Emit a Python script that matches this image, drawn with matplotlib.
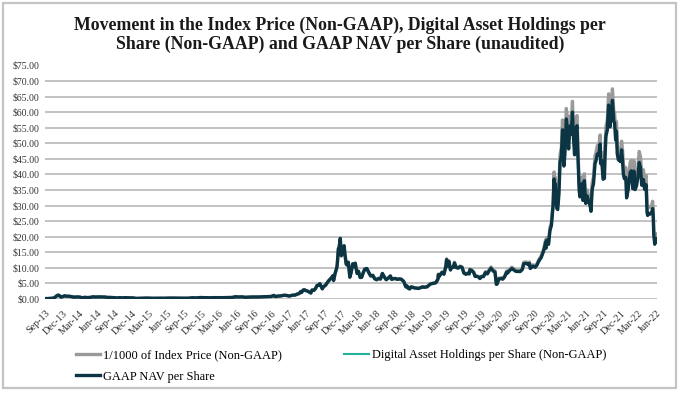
import matplotlib
matplotlib.use("Agg")
import matplotlib.pyplot as plt
import pandas as pd
from matplotlib.patches import Rectangle
from matplotlib.lines import Line2D

plt.rcParams['font.family'] = ['Liberation Serif', 'DejaVu Serif']

title = "Movement in the Index Price (Non-GAAP), Digital Asset Holdings per\nShare (Non-GAAP) and GAAP NAV per Share (unaudited)"
label_index = "1/1000 of Index Price (Non-GAAP)"
label_holdings = "Digital Asset Holdings per Share (Non-GAAP)"
label_nav = "GAAP NAV per Share"

dates = [
    # 2013
    "2013-09-25", "2013-10-10", "2013-10-25", "2013-11-05", "2013-11-15", "2013-11-22", "2013-11-30", "2013-12-05",
    "2013-12-10", "2013-12-18", "2013-12-25",
    # 2014
    "2014-01-05", "2014-01-15", "2014-01-31", "2014-02-10", "2014-02-25", "2014-03-10", "2014-03-25", "2014-04-10",
    "2014-04-20", "2014-05-05", "2014-05-20", "2014-06-03", "2014-06-15", "2014-07-01", "2014-07-20", "2014-08-05",
    "2014-08-18", "2014-09-01", "2014-09-20", "2014-10-05", "2014-10-20", "2014-11-05", "2014-11-15", "2014-12-01",
    "2014-12-15",
    # 2015
    "2015-01-01", "2015-01-14", "2015-02-01", "2015-02-15", "2015-03-10", "2015-03-25", "2015-04-15", "2015-05-01",
    "2015-05-20", "2015-06-15", "2015-07-10", "2015-08-01", "2015-08-20", "2015-09-15", "2015-10-05", "2015-10-25",
    "2015-11-04", "2015-11-15", "2015-12-01", "2015-12-15",
    # 2016
    "2016-01-01", "2016-01-15", "2016-02-01", "2016-02-20", "2016-03-10", "2016-04-01", "2016-04-20", "2016-05-05",
    "2016-05-25", "2016-06-10", "2016-06-17", "2016-06-25", "2016-07-10", "2016-07-25", "2016-08-03", "2016-08-20",
    "2016-09-10", "2016-10-01", "2016-10-20", "2016-11-05", "2016-11-20", "2016-12-05", "2016-12-20",
    # 2017
    "2017-01-04", "2017-01-12", "2017-01-25", "2017-02-10", "2017-02-25", "2017-03-10", "2017-03-25", "2017-04-10",
    "2017-04-25", "2017-05-05", "2017-05-15", "2017-05-25", "2017-05-28", "2017-06-06", "2017-06-12", "2017-06-20",
    "2017-07-01", "2017-07-16", "2017-07-22", "2017-08-01", "2017-08-10", "2017-08-17", "2017-08-25", "2017-09-01",
    "2017-09-14", "2017-09-20", "2017-10-01", "2017-10-12", "2017-10-20", "2017-11-01", "2017-11-08", "2017-11-12",
    "2017-11-20", "2017-11-28", "2017-12-01", "2017-12-07", "2017-12-11", "2017-12-17", "2017-12-22", "2017-12-28",
    # 2018
    "2018-01-06", "2018-01-10", "2018-01-17", "2018-01-22", "2018-01-28", "2018-02-05", "2018-02-12", "2018-02-20",
    "2018-02-28", "2018-03-05", "2018-03-15", "2018-03-22", "2018-03-31", "2018-04-08", "2018-04-15", "2018-04-24",
    "2018-05-05", "2018-05-15", "2018-05-25", "2018-06-05", "2018-06-15", "2018-06-25", "2018-07-05", "2018-07-15",
    "2018-07-25", "2018-08-05", "2018-08-14", "2018-08-25", "2018-09-05", "2018-09-12", "2018-09-20", "2018-10-01",
    "2018-10-11", "2018-10-20", "2018-11-01", "2018-11-14", "2018-11-20", "2018-11-25", "2018-12-01", "2018-12-08",
    "2018-12-15", "2018-12-22",
    # 2019
    "2019-01-01", "2019-01-10", "2019-01-20", "2019-01-29", "2019-02-08", "2019-02-20", "2019-03-01", "2019-03-15",
    "2019-04-02", "2019-04-15", "2019-04-30", "2019-05-11", "2019-05-14", "2019-05-17", "2019-05-25", "2019-06-02",
    "2019-06-12", "2019-06-22", "2019-06-26", "2019-06-30", "2019-07-08", "2019-07-16", "2019-07-22", "2019-08-01",
    "2019-08-06", "2019-08-15", "2019-08-25", "2019-09-05", "2019-09-15", "2019-09-24", "2019-10-05", "2019-10-15",
    "2019-10-22", "2019-10-26", "2019-11-05", "2019-11-15", "2019-11-22", "2019-12-01", "2019-12-10", "2019-12-17",
    "2019-12-25",
    # 2020
    "2020-01-05", "2020-01-15", "2020-01-25", "2020-02-05", "2020-02-13", "2020-02-25", "2020-03-05", "2020-03-12",
    "2020-03-16", "2020-03-25", "2020-04-05", "2020-04-15", "2020-04-25", "2020-05-05", "2020-05-10", "2020-05-20",
    "2020-06-01", "2020-06-10", "2020-06-20", "2020-07-01", "2020-07-15", "2020-07-26", "2020-08-02", "2020-08-16",
    "2020-08-25", "2020-09-01", "2020-09-05", "2020-09-20", "2020-10-01", "2020-10-10", "2020-10-21", "2020-11-01",
    "2020-11-10", "2020-11-17", "2020-11-25", "2020-11-27", "2020-12-01", "2020-12-10", "2020-12-17", "2020-12-25",
    "2020-12-31",
    # 2021
    "2021-01-03", "2021-01-08", "2021-01-11", "2021-01-14", "2021-01-22", "2021-01-27", "2021-02-02", "2021-02-08",
    "2021-02-15", "2021-02-21", "2021-02-28", "2021-03-05", "2021-03-13", "2021-03-18", "2021-03-25", "2021-03-31",
    "2021-04-07", "2021-04-14", "2021-04-18", "2021-04-25", "2021-04-30", "2021-05-08", "2021-05-12", "2021-05-19",
    "2021-05-23", "2021-05-29", "2021-06-03", "2021-06-08", "2021-06-15", "2021-06-22", "2021-06-30", "2021-07-08",
    "2021-07-15", "2021-07-20", "2021-07-26", "2021-08-02", "2021-08-10", "2021-08-15", "2021-08-22", "2021-08-29",
    "2021-09-06", "2021-09-08", "2021-09-14", "2021-09-21", "2021-09-28", "2021-10-01", "2021-10-06", "2021-10-13",
    "2021-10-20", "2021-10-27", "2021-11-03", "2021-11-09", "2021-11-12", "2021-11-16", "2021-11-20", "2021-11-26",
    "2021-11-30", "2021-12-04", "2021-12-10", "2021-12-16", "2021-12-20", "2021-12-27",
    # 2022
    "2022-01-01", "2022-01-05", "2022-01-10", "2022-01-18", "2022-01-22", "2022-01-30", "2022-02-05", "2022-02-10",
    "2022-02-16", "2022-02-24", "2022-03-01", "2022-03-07", "2022-03-15", "2022-03-22", "2022-03-29", "2022-04-05",
    "2022-04-11", "2022-04-20", "2022-04-26", "2022-05-04", "2022-05-09", "2022-05-12", "2022-05-16", "2022-05-25",
    "2022-06-01", "2022-06-07", "2022-06-10", "2022-06-13", "2022-06-18", "2022-06-22", "2022-06-26", "2022-06-30",
]

index_price_k = [
    # 2013
    0.125, 0.125, 0.185, 0.24, 0.42, 0.80, 1.12, 1.15, 0.95, 0.55, 0.68,
    # 2014
    0.95, 0.85, 0.82, 0.70, 0.55, 0.63, 0.58, 0.37, 0.50, 0.43, 0.49, 0.66, 0.59, 0.64, 0.62, 0.59,
    0.47, 0.48, 0.41, 0.32, 0.39, 0.34, 0.40, 0.38, 0.35,
    # 2015
    0.315, 0.18, 0.225, 0.235, 0.29, 0.25, 0.22, 0.235, 0.237, 0.235, 0.285, 0.28, 0.235, 0.23, 0.24, 0.29,
    0.40, 0.33, 0.36, 0.45,
    # 2016
    0.43, 0.385, 0.375, 0.43, 0.415, 0.415, 0.44, 0.45, 0.47, 0.58, 0.75, 0.63, 0.65, 0.66, 0.52, 0.58,
    0.62, 0.615, 0.63, 0.70, 0.73, 0.76, 0.79,
    # 2017
    1.13, 0.78, 0.92, 1.00, 1.18, 1.15, 0.93, 1.20, 1.26, 1.55, 1.71, 2.40, 2.05, 2.86, 2.95, 2.70,
    2.45, 1.92, 2.85, 2.75, 3.40, 4.30, 4.35, 4.90, 3.25, 3.90, 4.40, 5.40, 6.00, 6.75, 7.40, 5.90,
    8.20, 9.80, 10.90, 16.00, 16.50, 19.30, 13.80, 14.40,
    # 2018
    17.10, 14.50, 11.20, 10.90, 11.80, 7.00, 8.60, 11.30, 10.40, 11.50, 8.20, 8.90, 6.90, 7.00, 8.30, 9.60,
    9.80, 8.50, 7.40, 7.60, 6.50, 6.20, 6.60, 6.40, 8.20, 7.00, 6.20, 6.70, 7.40, 6.30, 6.50, 6.60,
    6.30, 6.45, 6.35, 5.60, 4.60, 3.90, 4.20, 3.40, 3.25, 3.90,
    # 2019
    3.80, 3.60, 3.55, 3.45, 3.65, 3.95, 3.85, 3.95, 4.90, 5.10, 5.30, 6.40, 8.00, 7.30, 8.00, 8.70,
    8.10, 10.70, 12.90, 10.80, 12.30, 9.50, 10.30, 10.40, 11.80, 10.30, 10.10, 10.60, 10.30, 8.50, 8.10, 8.40,
    8.20, 9.60, 9.30, 8.60, 7.40, 7.40, 7.20, 6.70, 7.30,
    # 2020
    7.50, 8.80, 8.40, 9.60, 10.30, 9.30, 9.00, 4.90, 5.00, 6.70, 6.80, 6.65, 7.50, 9.00, 8.70, 9.50,
    10.20, 9.80, 9.30, 9.20, 9.20, 9.90, 11.80, 11.90, 11.50, 11.90, 10.20, 11.00, 10.60, 11.30, 12.80, 13.80,
    15.30, 16.70, 19.10, 17.00, 19.70, 18.30, 22.80, 24.70, 29.00,
    # 2021
    32.00, 40.80, 35.50, 39.20, 30.80, 30.40, 35.50, 46.40, 48.70, 57.50, 45.20, 48.80, 61.20, 57.90, 51.00, 58.80,
    56.00, 63.50, 56.20, 49.00, 57.80, 58.90, 49.50, 37.00, 34.70, 35.60, 39.20, 33.50, 40.20, 32.50, 35.00, 32.90,
    31.80, 29.80, 37.30, 39.20, 46.00, 47.00, 49.30, 48.80, 52.70, 46.00, 47.10, 40.70, 41.00, 48.20, 55.40, 57.30,
    65.90, 58.50, 62.90, 67.50, 64.20, 60.30, 59.90, 54.00, 57.00, 49.40, 47.30, 47.60, 46.70, 50.70,
    # 2022
    47.70, 43.40, 41.80, 42.20, 35.10, 37.90, 41.40, 44.00, 44.50, 38.30, 44.40, 38.00, 39.30, 42.30, 47.40, 45.50,
    39.50, 41.50, 38.10, 39.70, 30.10, 29.00, 29.80, 29.50, 29.80, 31.40, 29.10, 22.50, 19.00, 20.70, 21.00, 19.80,
]

nav_per_share = [
    # 2013
    0.14, 0.14, 0.20, 0.26, 0.46, 0.87, 1.22, 1.25, 1.04, 0.60, 0.74,
    # 2014
    1.02, 0.91, 0.88, 0.75, 0.59, 0.67, 0.62, 0.40, 0.54, 0.46, 0.52, 0.71, 0.63, 0.68, 0.66, 0.63,
    0.50, 0.51, 0.44, 0.34, 0.42, 0.36, 0.43, 0.41, 0.37,
    # 2015
    0.33, 0.19, 0.24, 0.25, 0.30, 0.26, 0.23, 0.25, 0.25, 0.25, 0.30, 0.29, 0.25, 0.24, 0.25, 0.30,
    0.42, 0.35, 0.38, 0.47,
    # 2016
    0.44, 0.40, 0.39, 0.44, 0.43, 0.43, 0.45, 0.46, 0.48, 0.60, 0.77, 0.65, 0.67, 0.68, 0.54, 0.60,
    0.64, 0.63, 0.65, 0.72, 0.75, 0.78, 0.81,
    # 2017
    1.14, 0.79, 0.93, 1.01, 1.19, 1.16, 0.94, 1.21, 1.27, 1.57, 1.73, 2.42, 2.07, 2.89, 2.98, 2.73,
    2.47, 1.94, 2.88, 2.78, 3.43, 4.34, 4.39, 4.95, 3.28, 3.94, 4.44, 5.45, 6.06, 6.82, 7.47, 5.96,
    8.28, 9.90, 11.01, 16.16, 16.67, 19.49, 13.94, 14.54,
    # 2018
    17.10, 14.50, 11.20, 10.90, 11.80, 7.00, 8.60, 11.30, 10.40, 11.50, 8.20, 8.90, 6.90, 7.00, 8.30, 9.60,
    9.80, 8.50, 7.40, 7.60, 6.50, 6.20, 6.60, 6.40, 8.20, 7.00, 6.20, 6.70, 7.40, 6.30, 6.50, 6.60,
    6.30, 6.45, 6.35, 5.60, 4.60, 3.90, 4.20, 3.40, 3.25, 3.90,
    # 2019
    3.72, 3.53, 3.48, 3.38, 3.58, 3.87, 3.77, 3.87, 4.80, 5.00, 5.19, 6.27, 7.84, 7.15, 7.84, 8.53,
    7.94, 10.49, 12.64, 10.58, 12.05, 9.31, 10.09, 10.19, 11.56, 10.09, 9.90, 10.39, 10.09, 8.33, 7.94, 8.23,
    8.04, 9.41, 9.11, 8.43, 7.25, 7.25, 7.06, 6.57, 7.15,
    # 2020
    7.20, 8.45, 8.06, 9.22, 9.89, 8.93, 8.64, 4.70, 4.80, 6.43, 6.53, 6.38, 7.20, 8.64, 8.35, 9.12,
    9.79, 9.41, 8.93, 8.83, 8.83, 9.50, 11.33, 11.42, 11.04, 11.42, 9.79, 10.56, 10.18, 10.85, 12.29, 13.25,
    14.69, 16.03, 18.34, 16.32, 18.91, 17.57, 21.89, 23.71, 27.84,
    # 2021
    30.24, 38.56, 33.55, 37.04, 29.11, 28.73, 33.55, 43.85, 46.02, 54.34, 42.71, 46.12, 57.83, 54.72, 48.20, 55.57,
    52.92, 60.01, 53.11, 46.31, 54.62, 55.66, 46.78, 34.97, 32.79, 33.64, 37.04, 31.66, 37.99, 30.71, 33.08, 31.09,
    30.05, 28.16, 35.25, 37.04, 43.47, 44.42, 46.59, 46.12, 49.80, 43.47, 44.51, 38.46, 38.75, 45.55, 52.35, 54.15,
    62.28, 55.28, 59.44, 63.79, 60.67, 56.98, 56.61, 51.03, 53.87, 46.68, 44.70, 44.98, 44.13, 47.91,
    # 2022
    44.12, 40.15, 38.67, 39.04, 32.47, 35.06, 38.30, 40.70, 41.16, 35.43, 41.07, 35.15, 36.35, 39.13, 43.85, 42.09,
    36.54, 38.39, 35.24, 36.72, 27.84, 26.83, 27.57, 27.29, 27.57, 29.05, 26.92, 20.81, 17.58, 19.15, 19.43, 18.32,
]

# Digital asset holdings per share read as coincident with GAAP NAV in the picture
holdings_per_share = list(nav_per_share)

y_ticks = [0, 5, 10, 15, 20, 25, 30, 35, 40, 45, 50, 55, 60, 65, 70, 75]

x = pd.to_datetime(dates)

fig = plt.figure(figsize=(6.8, 3.93), dpi=100)
fig.patch.set_facecolor("white")

# outer frame
fig.patches.append(Rectangle((3 / 680, 5 / 393), 673 / 680, 385 / 393, transform=fig.transFigure,
                             fill=False, edgecolor="#c4c4c4", linewidth=1.6, zorder=0))

ax = fig.add_axes([45 / 680, 1 - 299 / 393, 612 / 680, (299 - 65.5) / 393])

c_index = "#9a9a9a"
c_hold = "#22b29c"
c_nav = "#0c3544"

ax.plot(x, index_price_k, color=c_index, lw=2.4, zorder=3, solid_joinstyle="round")
ax.plot(x, holdings_per_share, color=c_hold, lw=1.5, zorder=4)
ax.plot(x, nav_per_share, color=c_nav, lw=2.4, zorder=5, solid_joinstyle="round")

ax.set_ylim(0, 75)
ax.set_xlim(pd.Timestamp("2013-09-25"), pd.Timestamp("2022-06-30"))
ax.set_yticks(y_ticks)
ax.set_yticklabels([f"${v:.2f}" for v in y_ticks])
ax.grid(axis="y", color="#bdbdbd", lw=1.3)
ax.set_axisbelow(True)
for s in ax.spines.values():
    s.set_visible(False)

tick_dates = pd.date_range("2013-09-01", "2022-06-01", freq="3MS") + pd.Timedelta(days=24)
ax.set_xticks(tick_dates)
ax.set_xticklabels([d.strftime("%b-%y") for d in tick_dates], rotation=45, ha="right",
                   rotation_mode="anchor", fontsize=7.3, color="#333333")
ax.tick_params(axis="x", length=0, pad=7)
ax.tick_params(axis="y", length=0, pad=4, labelsize=7, labelcolor="#333333")

fig.text(0.5, 1 - 35 / 393, title, ha="center", va="center", fontsize=12.8, fontweight="bold",
         color="#1a1a1a", linespacing=1.1)

handles = [Line2D([], [], color=c_index, lw=2.4),
           Line2D([], [], color=c_nav, lw=2.4),
           Line2D([], [], color=c_hold, lw=1.5)]
labels = [label_index, label_nav, label_holdings]
fig.legend(handles, labels, loc="upper left", bbox_to_anchor=(76 / 680, 1 - 349 / 393), ncol=2,
           frameon=False, fontsize=8.9, handlelength=1.95, handletextpad=0.25, columnspacing=5.05,
           labelspacing=0.78, borderaxespad=0, borderpad=0)

fig.savefig("out.png", dpi=100, facecolor="white")
